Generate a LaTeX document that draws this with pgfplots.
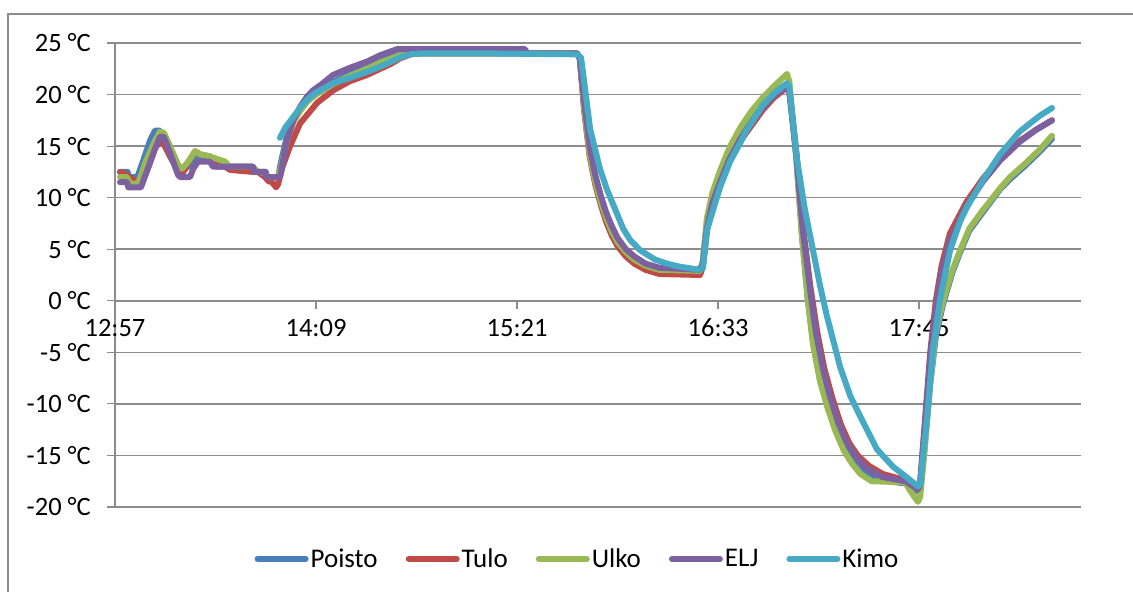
\documentclass[border=0pt]{standalone}
\usepackage{fontspec}
\setmainfont{Carlito}
\usepackage{pgfplots}
\pgfplotsset{compat=1.18}
\definecolor{cPoisto}{HTML}{4A7EBB}
\definecolor{cTulo}{HTML}{BE4B48}
\definecolor{cUlko}{HTML}{98B954}
\definecolor{cELJ}{HTML}{7D60A0}
\definecolor{cKimo}{HTML}{46AAC5}
\definecolor{gridc}{HTML}{8C8C8C}
\begin{document}
\begin{tikzpicture}[x=1bp,y=1bp]
\path[use as bounding box] (-115,-85) rectangle (1018,507);
\draw[gridc, line width=1.5bp] (-107,-85) -- (-107,493) -- (1018,493);
\begin{axis}[at={(0,0)}, anchor=south west, scale only axis,
  width=966bp, height=464bp,
  xmin=0, xmax=346, ymin=-20, ymax=25, enlargelimits=false,
  axis y line=left, axis x line=middle,
  axis line style={gridc, line width=1.5bp, -},
  hide obscured x ticks=false, hide obscured y ticks=false,
  ytick={-20,-15,...,25},
  yticklabels={-20 °C,-15 °C,-10 °C,-5 °C,0 °C,5 °C,10 °C,15 °C,20 °C,25 °C},
  ymajorgrids, grid style={gridc, line width=1.5bp},
  xtick={0,72,144,216,288}, xticklabels={12:57,14:09,15:21,16:33,17:45},
  tick align=outside, major tick length=8bp,
  tick style={gridc, line width=1.2bp},
  ticklabel style={font=\fontsize{26.5bp}{30bp}\selectfont},
  yticklabel style={anchor=east, inner sep=0pt, xshift=-16bp},
  xticklabel style={anchor=north, inner sep=0pt, yshift=-10bp},
  legend columns=5,
  legend style={at={(0.4788,-0.112)}, anchor=center, draw=none, fill=none,
    font=\fontsize{27bp}{30bp}\selectfont, inner sep=0pt,
    /tikz/every even column/.append style={column sep=26bp},
    nodes={inner sep=2bp}},
  legend image code/.code={\draw[line width=6bp, line cap=round] (0bp,0bp) -- (48bp,0bp);},
  every axis plot/.append style={line width=6bp, line join=round, line cap=round},
]
% Poisto
\addplot[cPoisto] coordinates {
(1.8,12.5)(4.5,12.5)(5,12)(8,12)(10,13.5)(12.5,15.5)(14.3,16.5)(16.1,16.5)(18,15.5)(20,14.0)(22.6,12.7)(24,12.5)(26,13.0)(28.7,14.0)(30.4,14.0)(34,13.5)(36,13.5)(36.5,13)(49,13)(49.5,12.5)(54,12.5)(54.5,12)(58.4,12)(59.5,13.5)(61.6,16.0)(63.8,17.5)(66.3,18.7)(68.8,19.6)(72,20.3)(78,21.2)(84,22.0)(90,22.8)(95,23.3)(101,23.8)(105,24.0)(165.5,24.0)
(166.5,23.5)(168,19)(170,14.5)(172,11.8)(174,9.8)(176,8.1)(178,6.8)(180,5.8)(183,4.8)(186,4.1)(190,3.5)(195,3.1)(209.5,3.0)(210.5,3.6)(212,7.2)(214,9.8)(216.7,11.8)(220,14.0)(224,16.0)(228,17.6)(232,19.0)(236,20.1)(240.7,21.0)(241.5,20.6)(244,14)(246,6.5)(248,0.5)(250,-4)(252.5,-7.5)(255,-9.8)(258,-12.2)(261,-14)(264,-15.3)(267,-16.3)(273,-17.4)(283,-17.7)(287.6,-18.5)(288.4,-18.3)(290,-14)(292,-8)(294,-3.5)(296.6,-0.3)(300,2.8)(302.7,4.7)(306,6.8)(310.9,8.6)(317,10.8)(320.6,11.8)(326,13.1)(331,14.4)(335.6,15.7)
};
\addlegendentry{Poisto}
% Tulo
\addplot[cTulo] coordinates {
(1.8,12.5)(4.3,12.2)(5,12)(6.4,11.8)(7.9,11.2)(9.3,11.2)(12,13)(14.3,14.8)(16.1,15.4)(17.5,15.2)(19.7,14)(22.6,12.6)(24.5,12.5)(26.5,13.5)(28.7,14.5)(30.4,14.2)(34,14)(35.8,13.5)(39.4,13)(41.2,12.7)(44.8,12.6)(49.4,12.5)(51.2,12.5)(53.7,12)(55,11.6)(56.2,11.5)(57.7,11)(58.4,11.3)(60,13)(62.7,15)(66.3,17.2)(72.4,19.2)(78.1,20.4)(84.2,21.3)(90.3,21.9)(95,22.5)(99,23.0)(102,23.5)(106,23.9)(110,24.0)(165.5,24.0)
(166.5,23.5)(168,18.5)(170,14)(172,11.3)(174,9.3)(176,7.6)(178,6.3)(180,5.3)(183,4.3)(186,3.6)(190,3.0)(195,2.6)(209.5,2.5)(210.5,3.2)(212,6.8)(214,9.3)(216.7,11.3)(220,13.5)(224,15.5)(228,17.0)(232,18.5)(236,19.7)(240.7,20.7)(241.5,20.3)(244,14.5)(246.5,7)(249,1.5)(251.5,-3)(254,-6.5)(257,-9.5)(260,-12)(263,-13.8)(266,-15)(270,-16)(275,-16.8)(283,-17.4)(287.6,-18.2)(288.4,-17.5)(290,-12)(292,-5)(294,0)(296,3.3)(299,6.5)(305,9.6)(311,11.9)(317,13.8)(324,15.5)(330,16.6)(335.6,17.5)
};
\addlegendentry{Tulo}
% Ulko
\addplot[cUlko] coordinates {
(1.8,12.0)(4.3,12)(5,11.5)(7,11.3)(8.5,11.5)(11,13.5)(14.3,15.5)(16.1,16.4)(17.5,16.3)(19.7,15)(22.6,13.2)(24,12.8)(26,13.4)(28.7,14.5)(30.4,14.2)(34,14)(36,13.8)(39.4,13.5)(41,13)(49.4,13)(51.2,12.5)(53.7,12.4)(54.8,12)(58.4,12)(59.5,13)(62,16)(64,17.4)(66.3,18.4)(68.8,19.3)(72,20.0)(78,21.0)(84,21.8)(90.3,22.5)(95,23.1)(100,23.6)(104,24.0)(165.5,24.0)
(166.5,23.5)(168,18.8)(170,14.2)(172,11.6)(174,9.6)(176,8.0)(178,6.7)(180,5.7)(183,4.7)(186,4.0)(190,3.4)(195,3.0)(209.5,2.9)(210.5,3.8)(212,8)(214,10.5)(216.7,12.6)(220,14.8)(224,16.8)(228,18.4)(232,19.7)(236,20.8)(240.7,22.0)(241.5,21.3)(244,14)(246,6.5)(248,0.5)(250,-4.2)(252.5,-7.8)(255,-10.2)(258,-12.6)(261,-14.5)(264,-15.8)(267,-16.8)(271,-17.5)(283,-17.6)(285,-18.5)(287.6,-19.5)(288.4,-19.0)(290,-14.5)(292,-8)(294,-3)(296.6,0)(300,3)(302.7,4.9)(306,7)(310.9,8.8)(317,10.9)(320.6,12.0)(326,13.3)(331,14.6)(335.6,16.0)
};
\addlegendentry{Ulko}
% ELJ
\addplot[cELJ] coordinates {
(1.8,11.5)(4.3,11.5)(4.8,11)(9.3,11)(12,13)(14.3,14.7)(16.1,15.9)(17.5,15.9)(19.5,14.5)(21.5,13)(22.6,12.2)(23.3,12)(26.9,12)(28,12.8)(29.7,13.5)(34,13.5)(35.1,13)(49.4,13)(49.8,12.5)(53.7,12.5)(54.2,12)(59.1,12)(61.6,15.6)(64,17.6)(66.3,18.8)(68.8,19.8)(70.9,20.4)(74,21.0)(78.1,21.9)(84.2,22.6)(90.3,23.2)(94.9,23.8)(101,24.4)(146.9,24.4)(147.5,24.0)(165.5,24.0)
(166.5,23.5)(168,19.5)(170,15)(172,12.2)(174,10.2)(176,8.5)(178,7.2)(180,6.1)(183,5.0)(186,4.3)(190,3.6)(195,3.2)(209.5,3.0)(210.5,3.5)(212,7)(214,9.5)(216.7,11.5)(220,13.7)(224,15.7)(228,17.3)(232,18.7)(236,19.9)(240.7,20.8)(241.5,20.4)(244,14.2)(246.5,6.5)(249,1)(251,-3)(253.5,-6.5)(256,-9.2)(259,-11.8)(262,-13.7)(265,-15)(269,-16.2)(275,-17.1)(283,-17.5)(287.6,-18.3)(288.4,-17.8)(290,-12.5)(292,-5.5)(294,-0.8)(296,2.6)(299,5.8)(305,9.2)(311,11.6)(317,13.6)(324,15.4)(330,16.6)(335.6,17.5)
};
\addlegendentry{ELJ}
% Kimo
\addplot[cKimo] coordinates {
(59.1,15.8)(61,16.8)(63.8,17.8)(66.3,18.7)(68.8,19.5)(72,20.2)(78.1,21.1)(84,21.6)(90.3,22.2)(95,22.7)(99,23.2)(102.1,23.6)(105.7,23.9)(110,24.0)(130,24.0)(165.5,23.9)(166.9,23.6)(168.4,20.5)(170.2,16.6)(173.7,12.8)(176.2,10.8)(179.1,8.9)(182.0,7.0)(184.5,5.9)(188.1,4.9)(193.4,4.0)(197.7,3.6)(202.4,3.3)(209.5,3.0)(210.6,3.2)(212.1,6.9)(214.2,8.8)(216.7,11.0)(220.3,13.5)(223.9,15.3)(226.4,16.6)(232.1,19.0)(236.4,20.2)(240.7,21.1)(241.5,20.8)(244.3,13.7)(247,9.0)(250.0,4.9)(252.5,1.5)(255.0,-1.5)(259.7,-6.4)(263.3,-9.2)(266.9,-11.2)(272.9,-14.4)(278.7,-16.1)(283,-17.0)(287.6,-18.0)(288.4,-17.8)(290.9,-11.2)(293.0,-4.7)(295.5,0.1)(299.1,4.9)(302.7,7.7)(305.2,9.1)(310.9,11.7)(317.0,14.2)(324,16.4)(331,17.9)(335.6,18.7)
};
\addlegendentry{Kimo}
\end{axis}
\end{tikzpicture}
\end{document}
